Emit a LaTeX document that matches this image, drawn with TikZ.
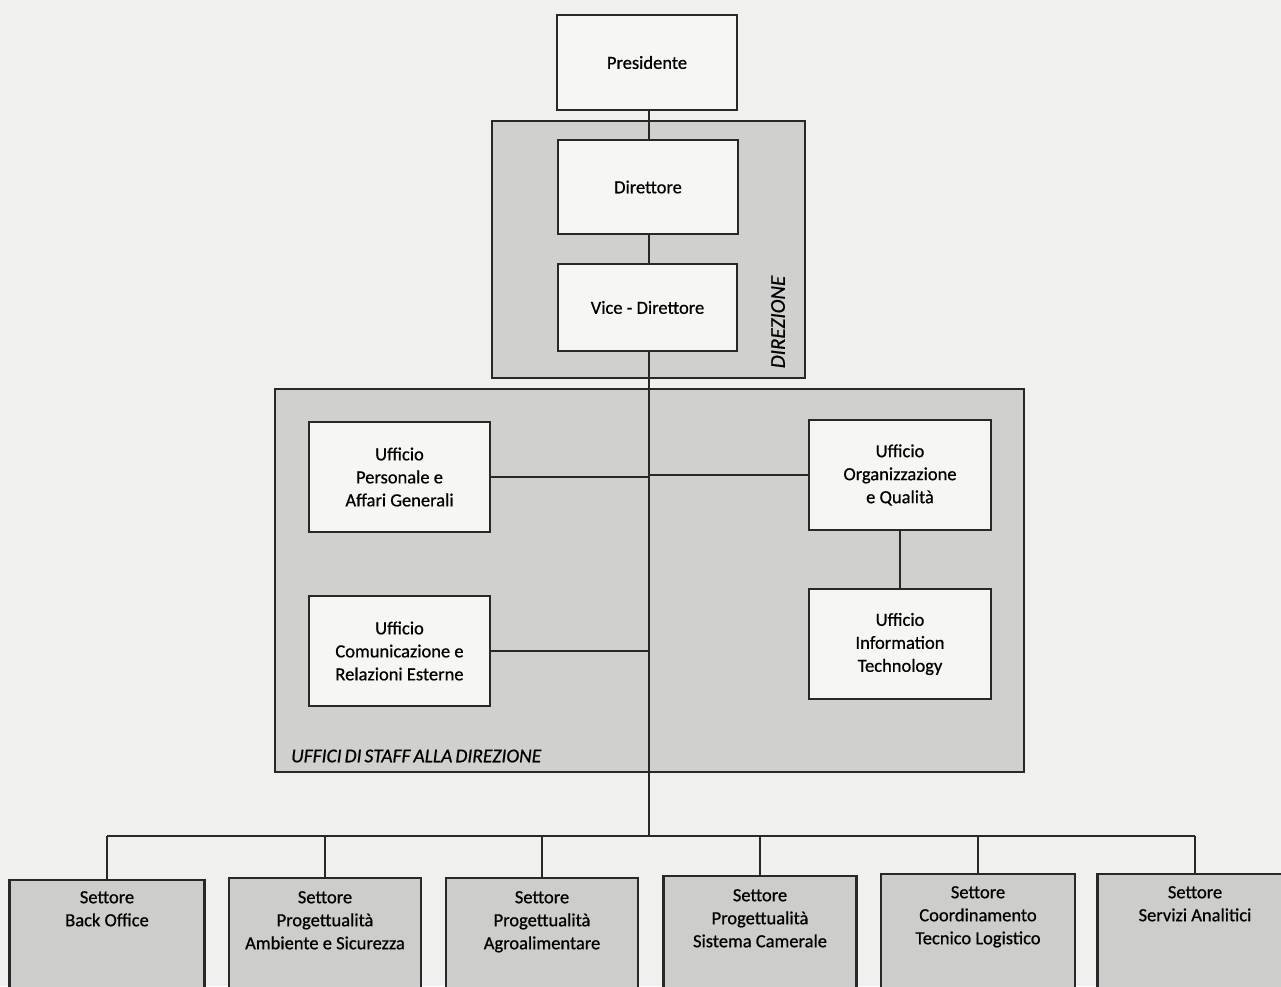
\documentclass[tikz,border=0pt]{standalone}
\usepackage{fontspec}
\setmainfont{Carlito}
\newfontfamily\scanfont{Carlito}[FakeBold=0.7]
\definecolor{bgc}{RGB}{240,240,238}
\definecolor{grpc}{RGB}{208,208,206}
\definecolor{boxw}{RGB}{246,246,244}
\definecolor{setc}{RGB}{205,205,203}
\definecolor{linec}{RGB}{40,40,40}
\begin{document}
\begin{tikzpicture}[x=1pt,y=-1pt,
  lnk/.style={draw=linec,line width=2pt},
  grp/.style={draw=linec,line width=1.8pt,fill=grpc,inner sep=0pt},
  box/.style={draw=linec,line width=1.8pt,fill=boxw,align=center,inner sep=0pt,
    font=\scanfont\fontsize{18.5}{23}\selectfont},
  setbox/.style={draw=linec,line width=2.2pt,fill=setc,inner sep=0pt,anchor=north,
    minimum height=140pt},
  settxt/.style={align=center,anchor=north,inner sep=0pt,font=\scanfont\fontsize{18.5}{23}\selectfont},
  lab/.style={font=\scanfont\itshape\fontsize{19.5}{22}\selectfont,inner sep=0pt}]
\useasboundingbox (0,0) rectangle (1281,986);
\clip (0,0) rectangle (1281,986);
\fill[bgc] (0,0) rectangle (1281,986);
% groups
\node[grp,minimum width=313pt,minimum height=257pt] (dirg) at (648.5,249.5) {};
\node[grp,minimum width=749pt,minimum height=383pt] (staff) at (649.5,580.5) {};
\node[lab,rotate=90,font=\scanfont\itshape\fontsize{21}{24}\selectfont] (dirlab) at (778,322) {DIREZIONE};
\node[lab,anchor=west] (stafflab) at (291,756) {\spaceskip=3pt UFFICI DI STAFF ALLA DIREZIONE};
% spine / bus coordinate
\coordinate (busy) at (649,836);
% nodes
\node[box,minimum width=180pt,minimum height=95pt] (pres) at (647,62.5) {Presidente};
\node[box,minimum width=180pt,minimum height=94pt] (dir) at (648,187) {Direttore};
\node[box,minimum width=179pt,minimum height=87pt] (vice) at (647.5,307.5) {Vice - Direttore};
\node[box,minimum width=181pt,minimum height=110pt] (pers) at (399.5,477) {Ufficio\\Personale e\\Affari Generali};
\node[box,minimum width=181pt,minimum height=110pt] (com) at (399.5,651) {Ufficio\\Comunicazione e\\Relazioni Esterne};
\node[box,minimum width=182pt,minimum height=110pt] (org) at (900,475) {Ufficio\\Organizzazione\\e Qualità};
\node[box,minimum width=182pt,minimum height=110pt] (it) at (900,644) {Ufficio\\Information\\Technology};
% settori
\node[setbox,minimum width=195pt] (s1) at (107,879) {};
\node[setbox,minimum width=192pt] (s2) at (325,877) {};
\node[setbox,minimum width=192pt] (s3) at (542,877) {};
\node[setbox,minimum width=193pt] (s4) at (760,875) {};
\node[setbox,minimum width=194pt] (s5) at (978,873) {};
\node[setbox,minimum width=195pt] (s6) at (1195,873) {};
\node[settxt] (t1) at ([yshift=-12pt]s1.north) {Settore\\Back Office};
\node[settxt] (t2) at ([yshift=-14pt]s2.north) {Settore\\Progettualità\\Ambiente e Sicurezza};
\node[settxt] (t3) at ([yshift=-14pt]s3.north) {Settore\\Progettualità\\Agroalimentare};
\node[settxt] (t4) at ([yshift=-14pt]s4.north) {Settore\\Progettualità\\Sistema Camerale};
\node[settxt] (t5) at ([yshift=-13pt]s5.north) {Settore\\Coordinamento\\Tecnico Logistico};
\node[settxt] (t6) at ([yshift=-13pt]s6.north) {Settore\\Servizi Analitici};
% connectors
\path[lnk] (pres.south -| busy) -- (dir.north -| busy);
\path[lnk] (dir.south -| busy) -- (vice.north -| busy);
\path[lnk] (vice.south -| busy) -- (busy);
\path[lnk] (pers.east) -- (pers.east -| busy);
\path[lnk] (org.west) -- (org.west -| busy);
\path[lnk] (com.east) -- (com.east -| busy);
\path[lnk] (org.south) -- (it.north);
\path[lnk] (s1.north |- busy) -- (s6.north |- busy);
\foreach \s in {s1,s2,s3,s4,s5,s6} {\path[lnk] (\s.north) -- (\s.north |- busy);}
\end{tikzpicture}
\end{document}
